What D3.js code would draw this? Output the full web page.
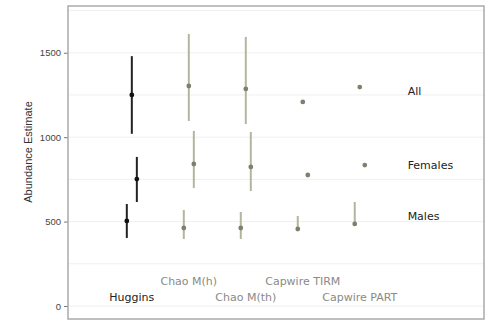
<!DOCTYPE html>
<html>
<head>
<meta charset="utf-8">
<script src="https://cdn.jsdelivr.net/npm/d3@7"></script>
<style>
  body { margin: 0; background: #fff; }
  svg { display: block; }
</style>
</head>
<body>
<div id="chart"></div>
<script>
const methods = ['Huggins', 'Chao M(h)', 'Chao M(th)', 'Capwire TIRM', 'Capwire PART'];
const methodLabelY = [55, 150, 55, 150, 55];
const groups = ['Males', 'All', 'Females'];
const groupLabelY = [530, 1270, 832];

const allEst = [1250, 1303, 1286, 1209, 1297];
const allLo = [1020, 1096, 1078, null, null];
const allHi = [1480, 1611, 1594, null, null];
const femEst = [752, 841, 824, 776, 835];
const femLo = [616, 699, 681, null, null];
const femHi = [883, 1037, 1031, null, null];
const maleEst = [504, 462, 462, 456, 486];
const maleLo = [403, 397, 397, 456, 486];
const maleHi = [604, 569, 557, 533, 616];

const yTicks = [0, 500, 1000, 1500];
const yGrid = [0, 250, 500, 750, 1000, 1250, 1500, 1750];

const width = 488, height = 320;
const margin = {top: 6, right: 4, bottom: 1, left: 68};
const groupOffset = {Males: -0.088, All: 0, Females: 0.088};

const series = [
  {group: 'Males', est: maleEst, lo: maleLo, hi: maleHi},
  {group: 'All', est: allEst, lo: allLo, hi: allHi},
  {group: 'Females', est: femEst, lo: femLo, hi: femHi}
];

const points = [];
series.forEach(s => {
  methods.forEach((m, i) => {
    points.push({method: m, idx: i, group: s.group, est: s.est[i], lo: s.lo[i], hi: s.hi[i]});
  });
});

const svg = d3.select('#chart').append('svg')
  .attr('width', width)
  .attr('height', height);

const x = d3.scaleLinear()
  .domain([-1.12, 6.18])
  .range([margin.left, width - margin.right]);
const y = d3.scaleLinear()
  .domain([-77, 1777])
  .range([height - margin.bottom, margin.top]);

// faint grid
svg.append('g')
  .selectAll('line')
  .data(yGrid)
  .join('line')
  .attr('x1', margin.left)
  .attr('x2', width - margin.right)
  .attr('y1', d => y(d))
  .attr('y2', d => y(d))
  .attr('stroke', '#f0f0f0')
  .attr('stroke-width', 1);

// y axis
const yAxis = svg.append('g')
  .attr('transform', `translate(${margin.left},0)`)
  .call(d3.axisLeft(y).tickValues(yTicks).tickFormat(d3.format('d'))
    .tickSize(4).tickPadding(3).tickSizeOuter(0));
yAxis.select('.domain').remove();
yAxis.selectAll('.tick line').attr('stroke', '#777');
yAxis.selectAll('.tick text')
  .attr('fill', '#444')
  .style('font-family', 'Liberation Sans, Arial, sans-serif')
  .style('font-size', '9.5px');

svg.append('text')
  .attr('transform', 'translate(32,152) rotate(-90)')
  .attr('text-anchor', 'middle')
  .attr('fill', '#333')
  .style('font-family', 'Liberation Sans, Arial, sans-serif')
  .style('font-size', '11px')
  .text('Abundance Estimate');

// frame
svg.append('rect')
  .attr('x', margin.left)
  .attr('y', margin.top)
  .attr('width', width - margin.left - margin.right)
  .attr('height', height - margin.top - margin.bottom)
  .attr('fill', 'none')
  .attr('stroke', '#aaa')
  .attr('stroke-width', 1.5);

const isHuggins = d => d.method === 'Huggins';

// error bars
svg.append('g')
  .selectAll('line')
  .data(points.filter(d => d.lo !== null && d.hi !== null && d.lo !== d.hi))
  .join('line')
  .attr('x1', d => x(d.idx + groupOffset[d.group]))
  .attr('x2', d => x(d.idx + groupOffset[d.group]))
  .attr('y1', d => y(d.lo))
  .attr('y2', d => y(d.hi))
  .attr('stroke', d => isHuggins(d) ? '#222' : '#b5b59f')
  .attr('stroke-width', 2);

// points
svg.append('g')
  .selectAll('circle')
  .data(points)
  .join('circle')
  .attr('cx', d => x(d.idx + groupOffset[d.group]))
  .attr('cy', d => y(d.est))
  .attr('r', 2.4)
  .attr('fill', d => isHuggins(d) ? '#111' : '#7f7f6e');

// method labels
svg.append('g')
  .selectAll('text')
  .data(methods)
  .join('text')
  .attr('x', (d, i) => x(i))
  .attr('y', (d, i) => y(methodLabelY[i]))
  .attr('dy', '0.35em')
  .attr('text-anchor', 'middle')
  .attr('fill', d => d === 'Huggins' ? '#222' : '#8a8a86')
  .style('font-family', 'DejaVu Sans, Verdana, sans-serif')
  .style('font-size', '11px')
  .text(d => d);

// group labels
svg.append('g')
  .selectAll('text')
  .data(groups)
  .join('text')
  .attr('x', x(4.84))
  .attr('y', (d, i) => y(groupLabelY[i]))
  .attr('dy', '0.35em')
  .attr('fill', '#222')
  .style('font-family', 'DejaVu Sans, Verdana, sans-serif')
  .style('font-size', '11px')
  .text(d => d);
</script>
</body>
</html>
